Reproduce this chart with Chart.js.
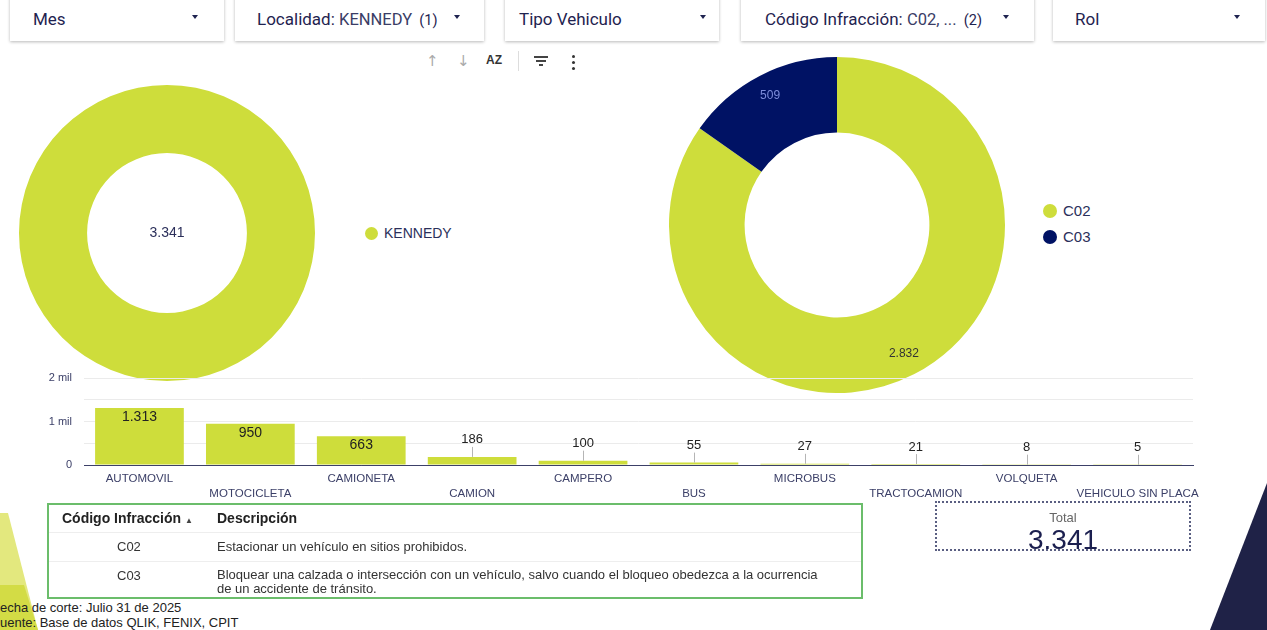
<!DOCTYPE html>
<html lang="es">
<head>
<meta charset="utf-8">
<script src="https://cdn.jsdelivr.net/npm/chart.js@4.4.1/dist/chart.umd.min.js"></script>
<style>
body{margin:0;width:1267px;height:630px;overflow:hidden;position:relative;background:#fff;font-family:Arial,"Liberation Sans",sans-serif;}
.card{position:absolute;top:-4px;height:45px;background:#fff;box-shadow:0 1px 3px rgba(0,0,0,.28);font-family:Roboto,sans-serif;color:#1f2350;}
.card .t{position:absolute;top:13px;font-size:17px;white-space:nowrap;}
.card .t small{font-size:16.5px;color:#3a3d66;}
.card .t i{font-style:normal;font-size:14.5px;margin-left:3px;}
.card .arr{position:absolute;top:19px;width:0;height:0;border-left:3.5px solid transparent;border-right:3.5px solid transparent;border-top:4px solid #1f2350;}
.tool{position:absolute;top:52px;font-size:15px;color:#aaa;font-family:"DejaVu Sans",sans-serif;}
canvas{position:absolute;}
.leg{position:absolute;font-size:15px;color:#2b2f5a;white-space:nowrap;}
.leg b{display:inline-block;width:14px;height:14px;border-radius:50%;vertical-align:-2px;margin-right:6px;}
#tbl{position:absolute;left:47px;top:503px;width:812px;height:92px;border:2px solid #6bbd6b;font-size:13px;color:#333;}
#tbl table{border-collapse:collapse;width:100%;}
#tbl td{padding:0;border-bottom:1px solid #eee;}
#total{position:absolute;left:935px;top:501px;width:252px;height:46px;border:2px dotted #5a5f82;text-align:center;}
.foot{position:absolute;left:-8px;font-size:13px;color:#222;white-space:nowrap;}
</style>
</head>
<body>
<svg style="position:absolute;left:0;top:0" width="1267" height="630">
  <polygon points="0,513 8,513 38,630 0,630" fill="#e3e87e"/>
  <polygon points="0,585 24,585 38,630 0,630" fill="#d3dc45"/>
  <polygon points="1267,483 1267,630 1210,630" fill="#1f2247"/>
</svg>

<div class="card" style="left:10px;width:214px"><span class="t" style="left:23px">Mes</span><span class="arr" style="left:182px"></span></div>
<div class="card" style="left:235px;width:249px"><span class="t" style="left:22px">Localidad: <small>KENNEDY</small> <i>(1)</i></span><span class="arr" style="left:219px"></span></div>
<div class="card" style="left:505px;width:214px"><span class="t" style="left:14px">Tipo Vehiculo</span><span class="arr" style="left:195px"></span></div>
<div class="card" style="left:741px;width:293px"><span class="t" style="left:24px">Código Infracción: <small>C02, ...</small> <i>(2)</i></span><span class="arr" style="left:262px"></span></div>
<div class="card" style="left:1053px;width:212px"><span class="t" style="left:22px">Rol</span><span class="arr" style="left:181px"></span></div>

<span class="tool" style="left:426px">↑</span>
<span class="tool" style="left:457px">↓</span>
<span class="tool" style="left:486px;top:53px;font-size:12px;font-weight:bold;color:#333;font-family:Arial,sans-serif">AZ</span>
<span style="position:absolute;left:518px;top:51px;width:1px;height:20px;background:#ddd"></span>
<span style="position:absolute;left:534px;top:56px;width:14px;height:2px;background:#444"></span>
<span style="position:absolute;left:536px;top:60px;width:10px;height:2px;background:#444"></span>
<span style="position:absolute;left:539px;top:64px;width:4px;height:2px;background:#444"></span>
<span style="position:absolute;left:572px;top:55px;width:3px;height:3px;border-radius:50%;background:#333;box-shadow:0 6px 0 #333,0 12px 0 #333"></span>

<canvas id="rightDonut" width="336" height="336" style="left:669px;top:57px"></canvas>
<canvas id="leftDonut" width="296" height="296" style="left:19px;top:85px"></canvas>
<canvas id="barChart" width="1173" height="134" style="left:40px;top:370px"></canvas>

<div class="leg" style="left:365px;top:225px;font-size:14px"><b style="background:#cedd3b;width:13px;height:13px"></b>KENNEDY</div>
<div class="leg" style="left:1043px;top:202px"><b style="background:#cedd3b"></b>C02</div>
<div class="leg" style="left:1043px;top:228px"><b style="background:#001264"></b>C03</div>

<div id="tbl">
<table>
<tr style="height:27px;font-weight:bold;color:#222;font-size:14px"><td style="width:155px;padding-left:13px">Código Infracción <span style="font-size:8px;color:#444">▲</span></td><td>Descripción</td></tr>
<tr style="height:29px"><td style="padding-left:68px">C02</td><td>Estacionar un vehículo en sitios prohibidos.</td></tr>
<tr style="height:34px;border:none"><td style="padding-left:68px;vertical-align:top;padding-top:6px;border:none">C03</td><td style="line-height:14px;padding-top:6px;border:none">Bloquear una calzada o intersección con un vehículo, salvo cuando el bloqueo obedezca a la ocurrencia<br>de un accidente de tránsito.</td></tr>
</table>
</div>

<div id="total">
  <div style="font-size:13px;color:#666;margin-top:7px">Total</div>
  <div style="font-size:28px;color:#1b1f4f;margin-top:-1px">3.341</div>
</div>

<div class="foot" style="top:600px">Fecha de corte: Julio 31 de 2025</div>
<div class="foot" style="top:615px">Fuente: Base de datos QLIK, FENIX, CPIT</div>

<script>
'use strict';

const localidades = ['KENNEDY'];
const localidadCounts = [3341];

const infraccionCodes = ['C02', 'C03'];
const infraccionCounts = [2832, 509];

const vehicleTypes = ['AUTOMOVIL', 'MOTOCICLETA', 'CAMIONETA', 'CAMION', 'CAMPERO', 'BUS',
  'MICROBUS', 'TRACTOCAMION', 'VOLQUETA', 'VEHICULO SIN PLACA'];
const vehicleCounts = [1313, 950, 663, 186, 100, 55, 27, 21, 8, 5];

const yTickValues = [0, 1000, 2000];
const yTickLabels = ['0', '1 mil', '2 mil'];

const lime = '#cedd3b';
const navy = '#001264';
const axisText = '#3c4068';

Chart.defaults.font.family = 'Arial, "Liberation Sans", sans-serif';

// 1.313 style numbers
function fmt(n) {
  return String(n).replace(/\B(?=(\d{3})+(?!\d))/g, '.');
}

////////////////////// donut labels //////////////////////
const sliceLabels = {
  id: 'sliceLabels',
  afterDatasetsDraw(chart, args, opts) {
    const ctx = chart.ctx;
    const meta = chart.getDatasetMeta(0);
    const values = chart.data.datasets[0].data;
    ctx.save();
    ctx.font = (opts.size || 12) + 'px Arial, sans-serif';
    ctx.textAlign = 'center';
    ctx.textBaseline = 'middle';
    meta.data.forEach((arc, i) => {
      ctx.fillStyle = opts.colors[i];
      if (opts.center) {
        ctx.fillText(fmt(values[i]), arc.x, arc.y);
        return;
      }
      const mid = (arc.startAngle + arc.endAngle) / 2;
      const r = arc.innerRadius + 0.7 * (arc.outerRadius - arc.innerRadius);
      ctx.fillText(fmt(values[i]), arc.x + Math.cos(mid) * r, arc.y + Math.sin(mid) * r);
    });
    ctx.restore();
  }
};

new Chart(document.getElementById('leftDonut'), {
  type: 'doughnut',
  data: {
    labels: localidades,
    datasets: [{ data: localidadCounts, backgroundColor: [lime], borderWidth: 0 }]
  },
  options: {
    responsive: false,
    animation: false,
    cutout: '54%',
    plugins: {
      legend: { display: false },
      tooltip: { enabled: false },
      sliceLabels: { center: true, size: 14, colors: ['#2b2f5a'] }
    }
  },
  plugins: [sliceLabels]
});

new Chart(document.getElementById('rightDonut'), {
  type: 'doughnut',
  data: {
    labels: infraccionCodes,
    datasets: [{ data: infraccionCounts, backgroundColor: [lime, navy], borderWidth: 0 }]
  },
  options: {
    responsive: false,
    animation: false,
    cutout: '55%',
    plugins: {
      legend: { display: false },
      tooltip: { enabled: false },
      sliceLabels: { size: 12, colors: ['#333', '#7d8ddb'] }
    }
  },
  plugins: [sliceLabels]
});

////////////////////// bar values //////////////////////
const barValues = {
  id: 'barValues',
  afterDatasetsDraw(chart) {
    const ctx = chart.ctx;
    const meta = chart.getDatasetMeta(0);
    const values = chart.data.datasets[0].data;
    ctx.save();
    ctx.textAlign = 'center';
    ctx.textBaseline = 'middle';
    meta.data.forEach((bar, i) => {
      const h = bar.base - bar.y;
      if (h > 20) {
        ctx.font = '14px Arial, sans-serif';
        ctx.fillStyle = '#222';
        ctx.fillText(fmt(values[i]), bar.x, bar.y + 9);
      } else {
        ctx.strokeStyle = '#b5b5b5';
        ctx.lineWidth = 1;
        ctx.beginPath();
        ctx.moveTo(Math.round(bar.x) + 0.5, bar.y - 10);
        ctx.lineTo(Math.round(bar.x) + 0.5, bar.y);
        ctx.stroke();
        ctx.font = '13px Arial, sans-serif';
        ctx.fillStyle = '#222';
        ctx.fillText(fmt(values[i]), bar.x, bar.y - 17);
      }
    });
    ctx.restore();
  }
};

new Chart(document.getElementById('barChart'), {
  type: 'bar',
  data: {
    labels: vehicleTypes,
    datasets: [{
      data: vehicleCounts,
      backgroundColor: lime,
      barPercentage: 0.8,
      categoryPercentage: 1
    }]
  },
  options: {
    responsive: false,
    animation: false,
    layout: { padding: { top: 8, left: 0, right: 20, bottom: 0 } },
    plugins: { legend: { display: false }, tooltip: { enabled: false } },
    scales: {
      x: {
        grid: { display: false },
        border: { display: true, color: axisText, width: 1 },
        ticks: {
          autoSkip: false,
          maxRotation: 0,
          padding: -2,
          color: axisText,
          font: { size: 11.5, lineHeight: 1.3 },
          callback: function (v, i) {
            const name = this.getLabelForValue(v);
            return i % 2 ? ['', name] : name;
          }
        },
        afterFit: s => { s.paddingLeft = 0; s.paddingRight = 0; s.height = 39; }
      },
      y: {
        min: 0,
        max: 2000,
        border: { display: false },
        grid: { color: c => c.tick.value === 0 ? axisText : '#ebebeb', drawTicks: false },
        ticks: {
          stepSize: 500,
          padding: 12,
          color: axisText,
          font: { size: 11 },
          callback: v => {
            const k = yTickValues.indexOf(v);
            return k < 0 ? '' : yTickLabels[k];
          }
        },
        afterFit: s => { s.width = 44; s.paddingTop = 0; s.paddingBottom = 0; }
      }
    }
  },
  plugins: [barValues]
});
</script>
</body>
</html>
